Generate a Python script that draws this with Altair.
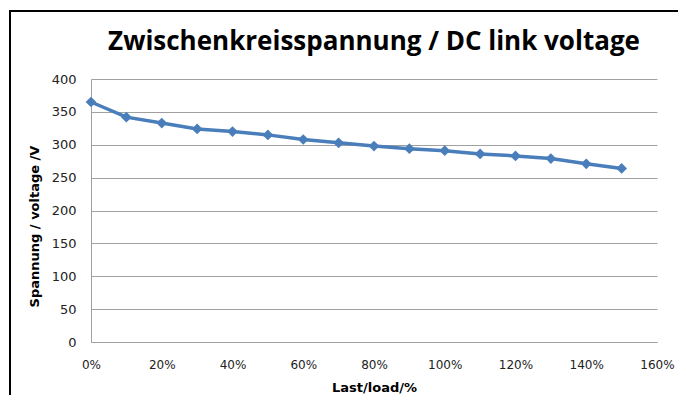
import altair as alt
import pandas as pd

load = [0.0, 0.1, 0.2, 0.3, 0.4, 0.5, 0.6, 0.7, 0.8, 0.9, 1.0, 1.1, 1.2, 1.3, 1.4, 1.5]
voltage = [365, 342, 333, 324, 320, 315, 308, 303, 298, 294, 291, 286, 283, 279, 271, 264]
x_ticks = [0.0, 0.2, 0.4, 0.6, 0.8, 1.0, 1.2, 1.4, 1.6]
y_ticks = [0, 50, 100, 150, 200, 250, 300, 350, 400]

df = pd.DataFrame({"load": load, "voltage": voltage})
TFONT = "Open Sans"
FONT = "DejaVu Sans"
BLUE = "#4a7ebb"

x_enc = alt.X("load:Q", scale=alt.Scale(domain=[0, 1.6], nice=False),
              axis=alt.Axis(values=x_ticks, format=".0%", title="Last/load/%",
                            grid=False, ticks=False, domainColor="#a0a0a0",
                            labelOverlap=False, labelFlush=False, labelFontSize=12,
                            labelPadding=17, titlePadding=11))
y_enc = alt.Y("voltage:Q", scale=alt.Scale(domain=[0, 400], nice=False),
              axis=alt.Axis(values=y_ticks, tickCount=9, title="Spannung / voltage /V",
                            grid=True, gridColor="#a0a0a0", ticks=False,
                            labelOverlap=False, labelFlush=False,
                            domainColor="#a0a0a0", labelPadding=15, titlePadding=10,
                            titleY=147))

base = alt.Chart(df)
line = base.mark_line(color=BLUE, strokeWidth=3.5).encode(x=x_enc, y=y_enc)
points = base.mark_point(shape="diamond", filled=True, color=BLUE, size=115,
                         opacity=1).encode(x=x_enc, y=y_enc)
frame = alt.Chart(pd.DataFrame({"a": [0]})).mark_rect(
    fill=None, stroke="#000000", strokeWidth=2
).encode(
    x=alt.value(-81), x2=alt.value(620), y=alt.value(-68), y2=alt.value(340)
)

chart = alt.layer(frame, line, points).properties(
    width=566, height=263,
    autosize=alt.AutoSizeParams(type="none"),
    padding={"left": 83, "top": 71, "right": 21, "bottom": 53},
    title=alt.TitleParams("Zwischenkreisspannung / DC link voltage", font=TFONT,
                          fontSize=26, fontWeight="bold", color="#000000",
                          anchor="middle", offset=-45),
).configure_view(stroke=None).configure_axis(
    labelFont=FONT, labelFontSize=13, labelColor="#222222",
    titleFont=FONT, titleFontSize=13, titleFontWeight="bold", titleColor="#000000",
)

chart.save("out.html", embed_options={"renderer": "svg", "actions": False})
